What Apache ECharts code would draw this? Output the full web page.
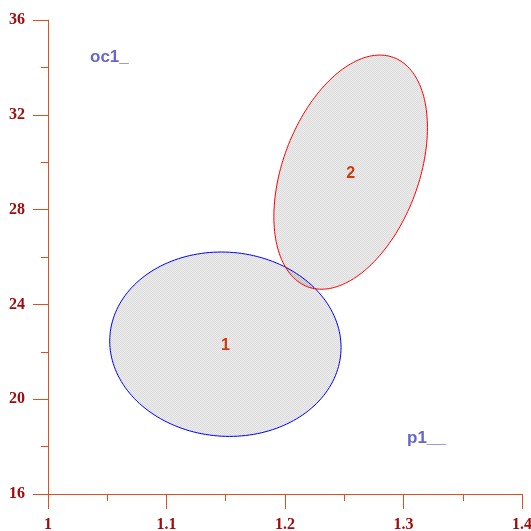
<!DOCTYPE html>
<html>
<head>
<meta charset="utf-8">
<script src="https://cdn.jsdelivr.net/npm/echarts@6/dist/echarts.min.js"></script>
<style>
  html, body { margin: 0; padding: 0; background: #ffffff; }
  #chart { width: 531px; height: 531px; }
</style>
</head>
<body>
<div id="chart"></div>
<script>
// Group ellipses: centre, half-extent along each axis, and correlation (tilt)
const groupNames = ['1', '2'];
const centerX = [1.1497, 1.2554];
const centerY = [22.32, 29.58];
const spreadX = [0.0976, 0.0648];
const spreadY = [3.89, 4.94];
const correlation = [-0.035, 0.38];
const outlineColors = ['#0000ff', '#ff0000'];

// Axis ranges and steps
const xRange = [1, 1.4];
const xStep = 0.1;
const yRange = [16, 36];
const yStep = 4;

// Corner annotations
const cornerNotes = ['oc1_', 'p1__'];

const axisColor = '#e0501e';
const tickLabelColor = '#a00c0c';

// Fine stippled grey fill, semi-transparent so overlaps darken
function stipple() {
  const c = document.createElement('canvas');
  c.width = 2; c.height = 2;
  const g = c.getContext('2d');
  g.fillStyle = 'rgba(0,0,0,0.14)';
  g.fillRect(0, 0, 1, 1); g.fillRect(1, 1, 1, 1);
  g.fillStyle = 'rgba(0,0,0,0.07)';
  g.fillRect(1, 0, 1, 1); g.fillRect(0, 1, 1, 1);
  return { image: c, repeat: 'repeat' };
}
const fillPattern = stipple();

const ellipseData = groupNames.map((n, i) =>
  [centerX[i], centerY[i], spreadX[i], spreadY[i], correlation[i], i]);

function renderEllipse(params, api) {
  const cx = api.value(0), cy = api.value(1);
  const sx = api.value(2), sy = api.value(3);
  const r = api.value(4), idx = api.value(5);
  const phase = Math.acos(r);
  const pts = [];
  const steps = 180;
  for (let k = 0; k < steps; k++) {
    const t = (k / steps) * Math.PI * 2;
    pts.push(api.coord([cx + sx * Math.cos(t), cy + sy * Math.cos(t - phase)]));
  }
  const c = api.coord([cx, cy]);
  return {
    type: 'group',
    children: [
      {
        type: 'polygon',
        shape: { points: pts, smooth: 0 },
        style: { fill: fillPattern, stroke: outlineColors[idx], lineWidth: 1 }
      },
      {
        type: 'text',
        z2: 10,
        x: c[0], y: c[1] + 1.5,
        style: {
          text: groupNames[idx],
          fill: '#cc3c10',
          font: 'bold 16px "Liberation Sans", Arial, sans-serif',
          align: 'center',
          verticalAlign: 'middle'
        }
      }
    ]
  };
}

const chart = echarts.init(document.getElementById('chart'), null, { renderer: 'canvas' });

chart.setOption({
  animation: false,
  backgroundColor: '#ffffff',
  grid: { left: 48, right: 9, top: 20, bottom: 37, containLabel: false, outerBoundsMode: 'none' },
  xAxis: {
    type: 'value',
    min: xRange[0], max: xRange[1], interval: xStep,
    axisLine: { show: true, onZero: false, lineStyle: { color: axisColor, width: 1 } },
    axisTick: { show: true, inside: false, length: 15, lineStyle: { color: axisColor } },
    minorTick: { show: true, splitNumber: 2, length: 7, lineStyle: { color: axisColor } },
    splitLine: { show: false },
    minorSplitLine: { show: false },
    axisLabel: {
      margin: 23,
      color: tickLabelColor,
      fontFamily: '"Liberation Serif", "Times New Roman", serif',
      fontWeight: 'bold',
      fontSize: 16,
      formatter: v => String(+v.toFixed(1))
    }
  },
  yAxis: {
    type: 'value',
    min: yRange[0], max: yRange[1], interval: yStep,
    axisLine: { show: true, onZero: false, lineStyle: { color: axisColor, width: 1 } },
    axisTick: { show: true, inside: false, length: 15, lineStyle: { color: axisColor } },
    minorTick: { show: true, splitNumber: 2, length: 7, lineStyle: { color: axisColor } },
    splitLine: { show: false },
    minorSplitLine: { show: false },
    axisLabel: {
      margin: 23,
      color: tickLabelColor,
      fontFamily: '"Liberation Serif", "Times New Roman", serif',
      fontWeight: 'bold',
      fontSize: 16
    }
  },
  graphic: [
    {
      type: 'text', left: 90, top: 49,
      style: {
        text: cornerNotes[0], fill: '#6666cc',
        font: 'bold 17px "Liberation Sans", Arial, sans-serif'
      }
    },
    {
      type: 'text', left: 407, top: 430,
      style: {
        text: cornerNotes[1], fill: '#6666cc',
        font: 'bold 17px "Liberation Sans", Arial, sans-serif'
      }
    }
  ],
  series: [
    {
      type: 'custom',
      renderItem: renderEllipse,
      data: ellipseData,
      clip: false,
      silent: true
    }
  ]
});
</script>
</body>
</html>
